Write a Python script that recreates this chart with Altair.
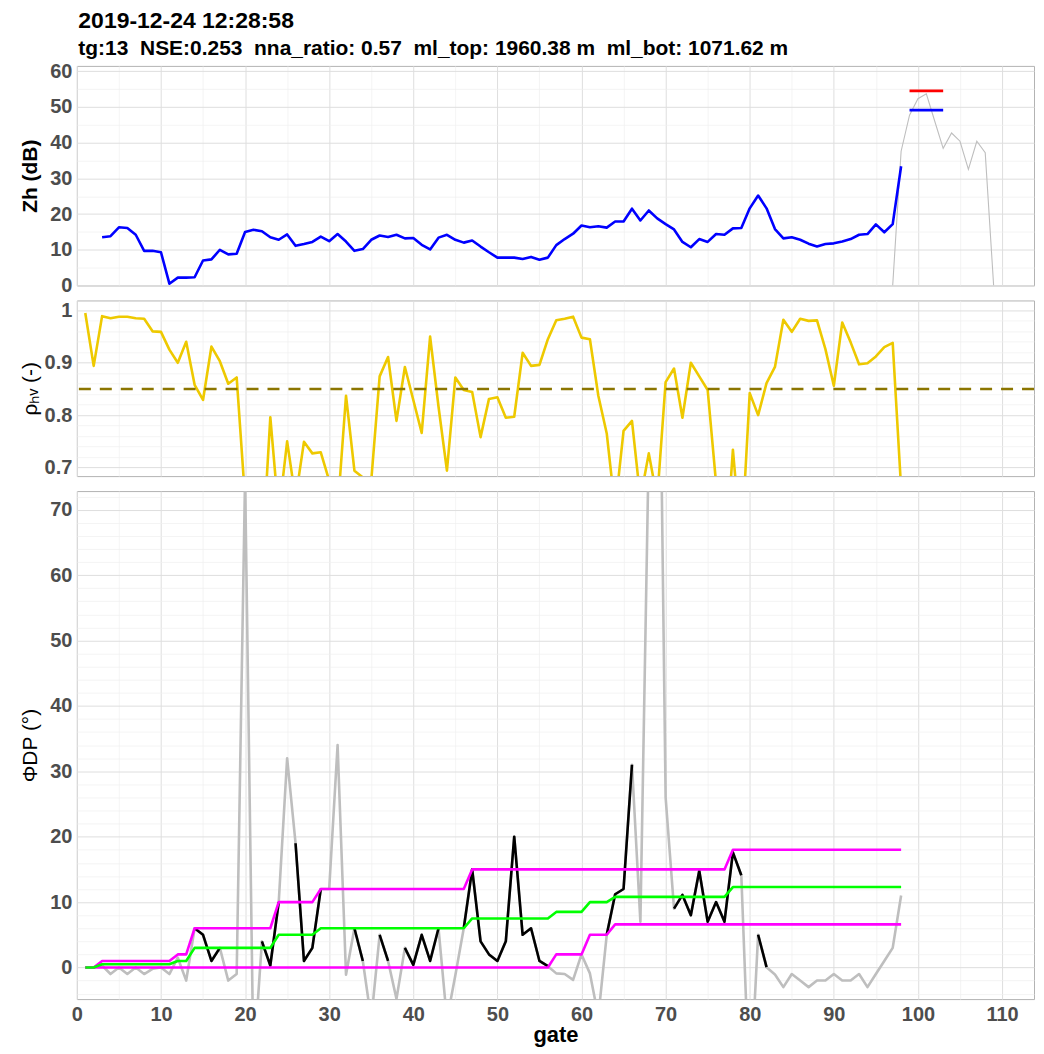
import altair as alt
import pandas as pd

FONT = "Liberation Sans"

# ---------------- data ----------------
title_text = "2019-12-24 12:28:58"
subtitle_text = ("tg:13\u00a0\u00a0NSE:0.253\u00a0\u00a0nna_ratio: 0.57\u00a0\u00a0"
                 "ml_top: 1960.38 m\u00a0\u00a0ml_bot: 1071.62 m")

# Zh (dB), processed profile
zh_gates = list(range(3, 99))
zh_vals = [13.5, 13.8, 16.3, 16.1, 14.2, 9.7, 9.7, 9.3, 0.5, 2.2,
           2.2, 2.3, 7.0, 7.3, 10.0, 8.7, 8.9, 15.0, 15.6, 15.2,
           13.5, 12.8, 14.3, 11.1, 11.6, 12.2, 13.7, 12.4, 14.4, 12.3,
           9.7, 10.2, 12.8, 14.0, 13.6, 14.2, 13.2, 13.3, 11.4, 10.1,
           13.4, 14.2, 12.8, 12.0, 12.6, 10.9, 9.3, 7.8, 7.8, 7.8,
           7.4, 8.0, 7.2, 7.8, 11.3, 13.0, 14.5, 16.8, 16.3, 16.6,
           16.2, 17.9, 17.9, 21.5, 18.2, 21.0, 18.8, 17.2, 15.7, 12.2,
           10.7, 13.0, 12.2, 14.4, 14.2, 16.0, 16.1, 21.6, 25.2, 21.6,
           15.8, 13.2, 13.5, 12.8, 11.7, 10.9, 11.6, 11.8, 12.3, 13.0,
           14.2, 14.4, 17.1, 14.9, 17.2, 33.4]

# Zh raw (thin grey) in the melting layer region
zh_raw_gates = list(range(97, 110))
zh_raw_vals = [0.0, 37.6, 47.7, 52.3, 53.7, 46.0, 38.4, 42.7, 40.4, 32.5, 40.4, 37.2, 0.0]

# melting layer markers
ml_names = ["ml_top", "ml_bot"]
ml_vals = [54.5, 49.1]
ml_colors = ["#ff0000", "#0000ff"]
ml_gate_start = [99, 99]
ml_gate_end = [103, 103]

# rho_hv
rho_gates = list(range(1, 99))
rho_vals = [0.995, 0.894, 0.989, 0.985, 0.988, 0.988, 0.985, 0.984, 0.960, 0.959,
            0.925, 0.900, 0.940, 0.858, 0.829, 0.931, 0.903, 0.860, 0.872, 0.64,
            0.55, 0.52, 0.796, 0.61, 0.750, 0.64, 0.749, 0.727, 0.729, 0.675,
            0.618, 0.837, 0.694, 0.681, 0.675, 0.874, 0.911, 0.789, 0.892, 0.829,
            0.766, 0.950, 0.816, 0.694, 0.872, 0.848, 0.844, 0.758, 0.831, 0.834,
            0.795, 0.797, 0.919, 0.894, 0.896, 0.945, 0.981, 0.984, 0.988, 0.948,
            0.945, 0.837, 0.765, 0.62, 0.770, 0.789, 0.64, 0.727, 0.64, 0.863,
            0.889, 0.795, 0.900, 0.874, 0.848, 0.67, 0.50, 0.734, 0.55, 0.842,
            0.800, 0.861, 0.892, 0.982, 0.959, 0.984, 0.980, 0.981, 0.926, 0.856,
            0.977, 0.939, 0.897, 0.899, 0.912, 0.930, 0.938, 0.66]
rho_threshold = [0.85]

# Phi_DP raw (grey)
phi_gates = list(range(1, 99))
phi_raw = [0, 0, 0.3, -1, 0, -1, 0, -1, -0.2, 0,
           -1, 1.5, -2, 6, 5, 1, 3, -2, -1, 75,
           -15, 4, 0.3, 10, 32, 19, 1, 3, 12, 12,
           34, -1.1, 6, 1, -8, 5, 1, -4.8, 3, 0.4,
           5, 1, 6, -8, -1.2, 6, 15, 4, 2, 1,
           4, 20, 5, 6, 1, 0.2, -0.9, -1, -1.9, 2,
           -0.9, -7.5, 5, 11.2, 12, 31, 7, 80, 130, 26,
           9, 11.1, 8, 14.8, 7, 10, 7, 17.6, 14.1, -20,
           5, 0.05, -1.06, -3, -1, -2, -3, -2, -2, -1,
           -2, -2, -1, -3, -1, 1, 3, 11]
# Phi_DP filtered (black), None = removed
N = None
phi_filt = [N, N, N, N, N, N, N, N, N, N,
            N, N, N, 6, 5, 1, 3, N, N, N,
            N, 4, 0.3, 10, N, 19, 1, 3, 12, N,
            N, N, 6, 1, N, 5, 1, N, 3, 0.4,
            5, 1, 6, N, N, 6, 15, 4, 2, 1,
            4, 20, 5, 6, 1, 0.2, N, N, N, N,
            N, N, 5, 11.2, 12, 31, N, N, N, N,
            9, 11.1, 8, 14.8, 7, 10, 7, 17.6, 14.1, N,
            5, 0.05, N, N, N, N, N, N, N, N,
            N, N, N, N, N, N, N, N]

# envelopes (knots of the step curves)
upper_gates = [1, 2, 3, 11, 12, 13, 14, 23, 24, 28, 29, 46, 47, 77, 78, 98]
upper_vals = [0, 0, 1, 1, 2, 2, 6, 6, 10, 10, 12, 12, 15, 15, 18, 18]
lower_gates = [1, 56, 57, 60, 61, 63, 64, 98]
lower_vals = [0, 0, 2, 2, 5, 5, 6.6, 6.6]
mid_gates = [1, 2, 3, 11, 12, 13, 14, 23, 24, 28, 29, 46, 47, 56, 57, 60, 61, 63, 64, 77, 78, 98]
mid_vals = [0, 0, 0.5, 0.5, 1, 1, 3, 3, 5, 5, 6, 6, 7.5, 7.5, 8.5, 8.5, 10, 10, 10.8, 10.8, 12.3, 12.3]

# axis break positions
x_ticks = list(range(0, 115, 5))
zh_ticks = list(range(0, 61, 5))
rho_ticks = [round(0.70 + 0.02 * i, 2) for i in range(16)]
phi_ticks = list(range(-4, 73, 2))

# ---------------- frames ----------------
df_zh = pd.DataFrame({"gate": zh_gates, "zh": zh_vals})
df_zh_raw = pd.DataFrame({"gate": zh_raw_gates, "zh": zh_raw_vals})
df_ml = pd.DataFrame({"name": ml_names, "val": ml_vals, "color": ml_colors,
                      "xs": ml_gate_start, "xe": ml_gate_end})
df_rho = pd.DataFrame({"gate": rho_gates, "rho": rho_vals})
df_thr = pd.DataFrame({"thr": rho_threshold})
df_raw = pd.DataFrame({"gate": phi_gates, "phi": phi_raw})

seg, s, prev = [], 0, None
for v in phi_filt:
    if v is not None and prev is None:
        s += 1
    seg.append(s)
    prev = v
df_filt = pd.DataFrame({"gate": phi_gates, "phi": phi_filt, "seg": seg}).dropna()
df_up = pd.DataFrame({"gate": upper_gates, "phi": upper_vals})
df_lo = pd.DataFrame({"gate": lower_gates, "phi": lower_vals})
df_mid = pd.DataFrame({"gate": mid_gates, "phi": mid_vals})

# ---------------- helpers ----------------
W = 959
X_DOMAIN = [0, 113.8]
x_scale = alt.Scale(domain=X_DOMAIN, nice=False, zero=False)

MAJ = "#dedede"
MIN = "#efefef"


def grid_color(test):
    return {"condition": {"test": test, "value": MAJ}, "value": MIN}


def grid_width(test):
    return {"condition": {"test": test, "value": 1.0}, "value": 0.7}


X_TEST = "datum.value % 10 === 0"


def x_axis(show):
    if show:
        return alt.Axis(values=x_ticks, grid=True, gridColor=grid_color(X_TEST),
                        gridWidth=grid_width(X_TEST),
                        labelExpr="datum.value % 10 === 0 ? datum.label : ''",
                        title="gate", titleFontWeight="bold", titleFontSize=22,
                        labelPadding=5, titlePadding=0, labelFlush=False)
    return alt.Axis(values=x_ticks, grid=True, gridColor=grid_color(X_TEST),
                    gridWidth=grid_width(X_TEST), labels=False, title=None,
                    minExtent=0, maxExtent=0)


def y_axis(title, values, test, label_expr, bold=False):
    return alt.Axis(values=values, grid=True, gridColor=grid_color(test),
                    gridWidth=grid_width(test), labelExpr=label_expr,
                    title=title, titleFontWeight="bold" if bold else "normal",
                    minExtent=30, maxExtent=30, labelPadding=5, titlePadding=6)


X = lambda show: alt.X("gate:Q", scale=x_scale, axis=x_axis(show))

# ---------------- top: Zh ----------------
zh_scale = alt.Scale(domain=[0, 61.5], nice=False, zero=False)
zh_axis = y_axis("Zh (dB)", zh_ticks, "datum.value % 10 === 0",
                 "datum.value % 10 === 0 ? datum.label : ''", bold=True)

top_raw = alt.Chart(df_zh_raw).mark_line(color="#bebebe", strokeWidth=1.1, clip=True).encode(
    x=X(False), y=alt.Y("zh:Q", scale=zh_scale, axis=zh_axis))
top_line = alt.Chart(df_zh).mark_line(color="#0000ff", strokeWidth=2.6, strokeJoin="round",
                                      clip=True).encode(
    x=X(False), y=alt.Y("zh:Q", scale=zh_scale, axis=zh_axis))
top_ml = alt.Chart(df_ml).mark_rule(strokeWidth=2.6).encode(
    x=alt.X("xs:Q", scale=x_scale, axis=x_axis(False)), x2="xe:Q",
    y=alt.Y("val:Q", scale=zh_scale, axis=zh_axis),
    color=alt.Color("color:N", scale=None))
top = alt.layer(top_raw, top_line, top_ml).properties(width=W, height=220)

# ---------------- middle: rho_hv ----------------
rho_scale = alt.Scale(domain=[0.6836, 1.019], nice=False, zero=False)
RHO_TEST = "abs(datum.value*10 - round(datum.value*10)) < 0.0001"
rho_axis = y_axis("\u03c1\u2095\u1d65 (-)", rho_ticks, RHO_TEST,
                  "abs(datum.value*10 - round(datum.value*10)) < 0.0001 ? "
                  "(datum.value > 0.999 ? '1' : format(datum.value, '.1f')) : ''")
mid_line = alt.Chart(df_rho).mark_line(color="#eec900", strokeWidth=2.6, strokeJoin="round",
                                       clip=True).encode(
    x=X(False), y=alt.Y("rho:Q", scale=rho_scale, axis=rho_axis))
mid_thr = alt.Chart(df_thr).mark_rule(color="#8b7500", strokeWidth=2.6,
                                      strokeDash=[12, 9]).encode(
    y=alt.Y("thr:Q", scale=rho_scale, axis=rho_axis))
mid = alt.layer(mid_line, mid_thr).properties(width=W, height=176)

# ---------------- bottom: Phi_DP ----------------
phi_scale = alt.Scale(domain=[-4.83, 72.85], nice=False, zero=False)
phi_axis = y_axis("\u03a6DP (\u00b0)", phi_ticks, "datum.value % 10 === 0",
                  "datum.value % 10 === 0 ? datum.label : ''")
Y = alt.Y("phi:Q", scale=phi_scale, axis=phi_axis)
lw = dict(strokeWidth=2.6, strokeJoin="round", clip=True)
b_raw = alt.Chart(df_raw).mark_line(color="#bebebe", **lw).encode(x=X(True), y=Y)
b_filt = alt.Chart(df_filt).mark_line(color="#000000", **lw).encode(
    x=X(True), y=Y, detail="seg:N")
b_up = alt.Chart(df_up).mark_line(color="#ff00ff", **lw).encode(x=X(True), y=Y)
b_lo = alt.Chart(df_lo).mark_line(color="#ff00ff", **lw).encode(x=X(True), y=Y)
b_mid = alt.Chart(df_mid).mark_line(color="#00ff00", **lw).encode(x=X(True), y=Y)
bot = alt.layer(b_raw, b_filt, b_up, b_lo, b_mid).properties(width=W, height=509)

chart = alt.vconcat(top, mid, bot, spacing=15, bounds="flush").properties(
    title=alt.Title(text=title_text, subtitle=subtitle_text, anchor="start", dx=59,
                    font=FONT, fontSize=23, fontWeight="bold", color="#000000",
                    subtitleFont=FONT, subtitleFontSize=21, subtitleFontWeight="bold",
                    subtitleColor="#000000", subtitlePadding=5, offset=2),
    padding={"left": 11, "right": 0, "top": 0, "bottom": 0},
).configure_view(
    stroke="#b3b3b3", strokeWidth=1
).configure_axis(
    labelFont=FONT, labelFontSize=20, labelFontWeight="bold", labelColor="#4d4d4d",
    titleFont=FONT, titleFontSize=21, titleColor="#000000",
    ticks=False, domain=False
)

chart.save("out.html", embed_options={"renderer": "svg", "actions": False})
